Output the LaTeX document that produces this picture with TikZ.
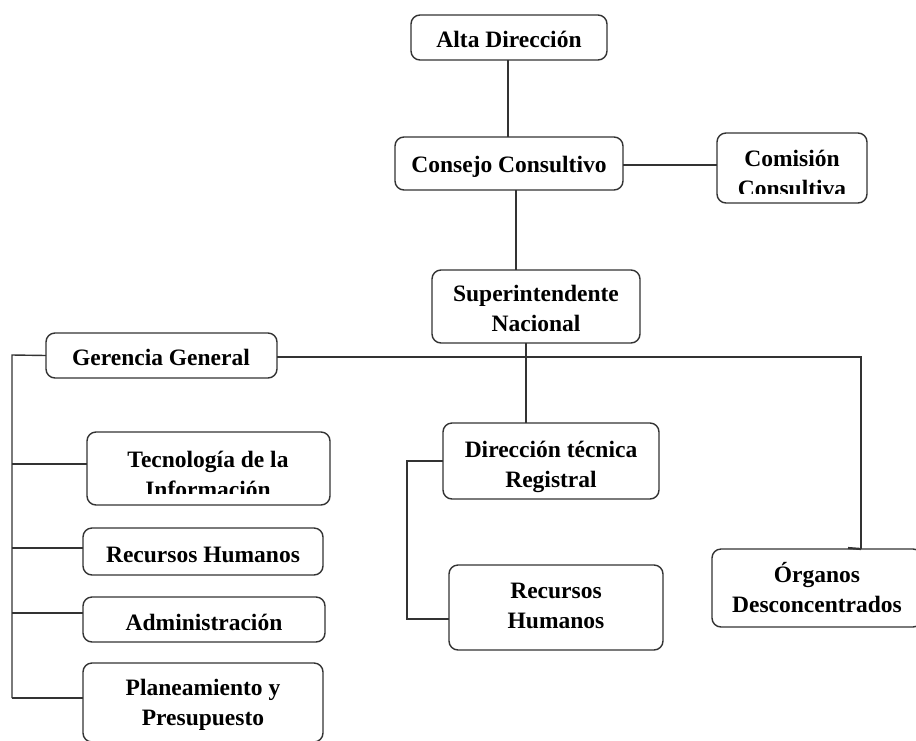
\documentclass[tikz,border=0pt]{standalone}
\usepackage{fontspec}
\setmainfont{Liberation Serif}
\begin{document}
\begin{tikzpicture}[x=1pt,y=-1pt,
  box/.style={draw=black!80, line width=1.4pt, rounded corners=9pt, inner sep=0pt, outer sep=0pt, anchor=north west, fill=white},
  txt/.style={font=\bfseries\fontsize{23.5}{30}\selectfont, align=center, anchor=base, inner sep=0pt},
  link/.style={draw=black!80, line width=1.4pt}]
\useasboundingbox[fill=white] (0,0) rectangle (916,740);

% boxes (top-left corner, width, height)
\node[box, minimum width=196, minimum height=45] (alta) at (411,15) {};
\node[box, minimum width=228, minimum height=53] (consejo) at (395,137) {};
\node[box, minimum width=150, minimum height=70] (comision) at (717,133) {};
\node[box, minimum width=208, minimum height=73] (super) at (432,270) {};
\node[box, minimum width=231, minimum height=45] (gerencia) at (46,333) {};
\node[box, minimum width=243, minimum height=73] (tec) at (87,432) {};
\node[box, minimum width=240, minimum height=47] (rhl) at (83,528) {};
\node[box, minimum width=242, minimum height=45] (adm) at (83,597) {};
\node[box, minimum width=240, minimum height=79] (plan) at (83,663) {};
\node[box, minimum width=216, minimum height=76] (dir) at (443,423) {};
\node[box, minimum width=214, minimum height=85] (rhr) at (449,565) {};
\node[box, minimum width=210, minimum height=78] (org) at (712,549) {};

% labels (two-line labels are anchored on the baseline of their last line)
\node[txt] (altaT) at (509,47) {Alta Dirección};
\node[txt] (consejoT) at (509,172) {Consejo Consultivo};
\begin{scope}
  \clip (717,133) rectangle (867,193);
  \node[txt] (comisionT) at (792,196) {Comisión\\Consultiva};
\end{scope}
\node[txt] (superT) at (536,331) {Superintendente\\Nacional};
\node[txt] (gerenciaT) at (161,365) {Gerencia General};
\begin{scope}
  \clip (87,432) rectangle (330,493);
  \node[txt] (tecT) at (208,497) {Tecnología de la\\Información};
\end{scope}
\node[txt] (rhlT) at (203,562) {Recursos Humanos};
\node[txt] (admT) at (204,630) {Administración};
\node[txt] (planT) at (203,725) {Planeamiento y\\Presupuesto};
\node[txt] (dirT) at (551,487) {Dirección técnica\\Registral};
\node[txt] (rhrT) at (556,628) {Recursos\\Humanos};
\node[txt] (orgT) at (817,612) {Órganos\\Desconcentrados};

% junction points of the connectors
\coordinate (spine) at (12,355);
\coordinate (bTec) at (12,464);
\coordinate (bRhl) at (12,548);
\coordinate (bAdm) at (12,613);
\coordinate (bPlan) at (12,698);
\coordinate (ggOut) at (277,357);
\coordinate (orgCorner) at (861,357);
\coordinate (orgIn) at (861,549);
\coordinate (dirSpine) at (407,461);
\coordinate (bRhr) at (407,619);

% connectors
\draw[link] ([xshift=-1pt]alta.south) -- ([xshift=-1pt]alta.south |- consejo.north);
\draw[link] ([xshift=7pt]consejo.south) -- ([xshift=7pt]consejo.south |- super.north);
\draw[link] (consejo.east |- 0,165) -- (comision.west |- 0,165);
\draw[link] ([xshift=-10pt]super.south) -- ([xshift=-10pt]super.south |- dir.north);
\draw[link] (gerencia.west) -- (spine) -- (bPlan);
\draw[link] (bTec) -- (bTec -| tec.west);
\draw[link] (bRhl) -- (bRhl -| rhl.west);
\draw[link] (bAdm) -- (bAdm -| adm.west);
\draw[link] (bPlan) -- (bPlan -| plan.west);
\draw[link] (ggOut) -- (orgCorner) -- (orgIn);
\draw[draw=black!80, line width=2.2pt] (848,548) -- (orgIn);
\draw[link] (dir.west) -- (dirSpine) -- (bRhr) -- (bRhr -| rhr.west);
\end{tikzpicture}
\end{document}
